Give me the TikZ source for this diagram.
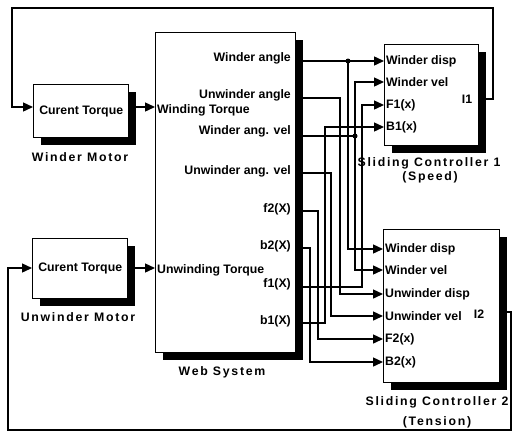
\documentclass[tikz,border=0pt]{standalone}
\usepackage{fontspec}
\setmainfont{Liberation Sans}
\newfontfamily\lblfont{Liberation Sans}[LetterSpace=14]
\usetikzlibrary{arrows.meta,shadows}
\begin{document}
\begin{tikzpicture}[x=1pt,y=-1pt,
  wire/.style={line width=1.4pt},
  arr/.style={wire,-{Triangle[length=10pt,width=9pt]}},
  blk/.style={draw,line width=1.4pt,fill=white,anchor=north west,inner sep=0pt,
    font=\bfseries\fontsize{12.3}{14}\selectfont,
    drop shadow={shadow xshift=7pt,shadow yshift=-7pt,fill=black,opacity=1}},
  pr/.style={inner sep=0pt,inner xsep=2pt,font=\bfseries\fontsize{12.3}{14}\selectfont},
  lbl/.style={inner sep=0pt,font=\lblfont\bfseries\fontsize{12.3}{14}\selectfont},
  dot/.style={circle,fill=black,inner sep=0pt,minimum size=5pt}
]
\useasboundingbox[fill=white] (0,0) rectangle (518,437);

% blocks
\node[blk,minimum width=95pt,minimum height=53pt] (wm) at (33,84) {Curent Torque};
\node[blk,minimum width=95pt,minimum height=60pt] (um) at (32,238) {Curent Torque};
\node[blk,minimum width=140pt,minimum height=320pt] (ws) at (155,32) {};
\node[blk,minimum width=94pt,minimum height=101pt] (c1) at (384,44) {};
\node[blk,minimum width=116pt,minimum height=153pt] (c2) at (383,229) {};

% block labels
\node[lbl] (wml) at (80,157) {Winder Motor};
\node[lbl] (uml) at (78,317) {Unwinder Motor};
\node[lbl] (wsl) at (222,372) {Web System};
\node[lbl] (c1l) at (429,163) {Sliding Controller 1};
\node[lbl] (c1s) at (430,177) {(Speed)};
\node[lbl] (c2l) at (437,402) {Sliding Controller 2};
\node[lbl] (c2s) at (437,422) {(Tension)};

% web system ports
\node[pr,anchor=east] (wa)  at (293,58)  {Winder angle};
\node[pr,anchor=east] (ua)  at (293,95)  {Unwinder angle};
\node[pr,anchor=east] (wav) at (293,131) {Winder ang. vel};
\node[pr,anchor=east] (uav) at (293,171) {Unwinder ang. vel};
\node[pr,anchor=east] (ftw) at (293,209) {f2(X)};
\node[pr,anchor=east] (btw) at (293,246) {b2(X)};
\node[pr,anchor=east] (fon) at (293,284) {f1(X)};
\node[pr,anchor=east] (bon) at (293,321) {b1(X)};
\node[pr,anchor=west] (wt)  at (155,110) {Winding Torque};
\node[pr,anchor=west] (ut)  at (155,270) {Unwinding Torque};

% controller 1 ports
\node[pr,anchor=west] (c1a) at (384,61)  {Winder disp};
\node[pr,anchor=west] (c1b) at (384,82)  {Winder vel};
\node[pr,anchor=west] (c1c) at (384,105) {F1(x)};
\node[pr,anchor=west] (c1d) at (384,127) {B1(x)};
\node[pr] (c1o) at (467,99) {I1};

% controller 2 ports
\node[pr,anchor=west] (c2a) at (383,249) {Winder disp};
\node[pr,anchor=west] (c2b) at (383,270) {Winder vel};
\node[pr,anchor=west] (c2c) at (383,294) {Unwinder disp};
\node[pr,anchor=west] (c2d) at (383,316) {Unwinder vel};
\node[pr,anchor=west] (c2e) at (383,339) {F2(x)};
\node[pr,anchor=west] (c2f) at (383,362) {B2(x)};
\node[pr] (c2o) at (479,314) {I2};

% outputs / points
\coordinate (wmo) at (135,107);
\coordinate (umo) at (134,268);
\coordinate (c1out) at (485,99);
\coordinate (c2out) at (506,312);
\coordinate (wo1) at (302,61);
\coordinate (wo2) at (302,98);
\coordinate (wo3) at (302,136);
\coordinate (wo4) at (302,173);
\coordinate (wo5) at (302,211);
\coordinate (wo6) at (302,248);
\coordinate (wo7) at (302,287);
\coordinate (wo8) at (302,323);
\coordinate (j1) at (348,61);
\coordinate (j2) at (355,136);

% motor to web
\draw[arr] (wmo) -- (ws.west |- wmo);
\draw[arr] (umo) -- (ws.west |- umo);

% feedback
\draw[arr] (c1out) -| (493,8) -| (12,107) -- (wm.west |- 0,107);
\draw[arr] (c2out) -| (511,430) -| (8,268) -- (um.west |- 0,268);

% web system outputs
\draw[arr] (wo1) -- (c1a.west);
\draw[arr] (j1) |- (c2a.west);
\draw[arr] (wo2) -- (340,98) |- (c2c.west);
\draw[wire] (wo3) -- (j2);
\draw[arr] (j2) |- (c1b.west);
\draw[arr] (j2) |- (c2b.west);
\draw[arr] (wo4) -- (331,173) |- (c2d.west);
\draw[arr] (wo5) -- (318,211) |- (c2e.west);
\draw[arr] (wo6) -- (310,248) |- (c2f.west);
\draw[arr] (wo7) -- (362,287) |- (c1c.west);
\draw[arr] (wo8) -- (325,323) |- (c1d.west);
\node[dot] (d1) at (j1) {};
\node[dot] (d2) at (j2) {};
\end{tikzpicture}
\end{document}
